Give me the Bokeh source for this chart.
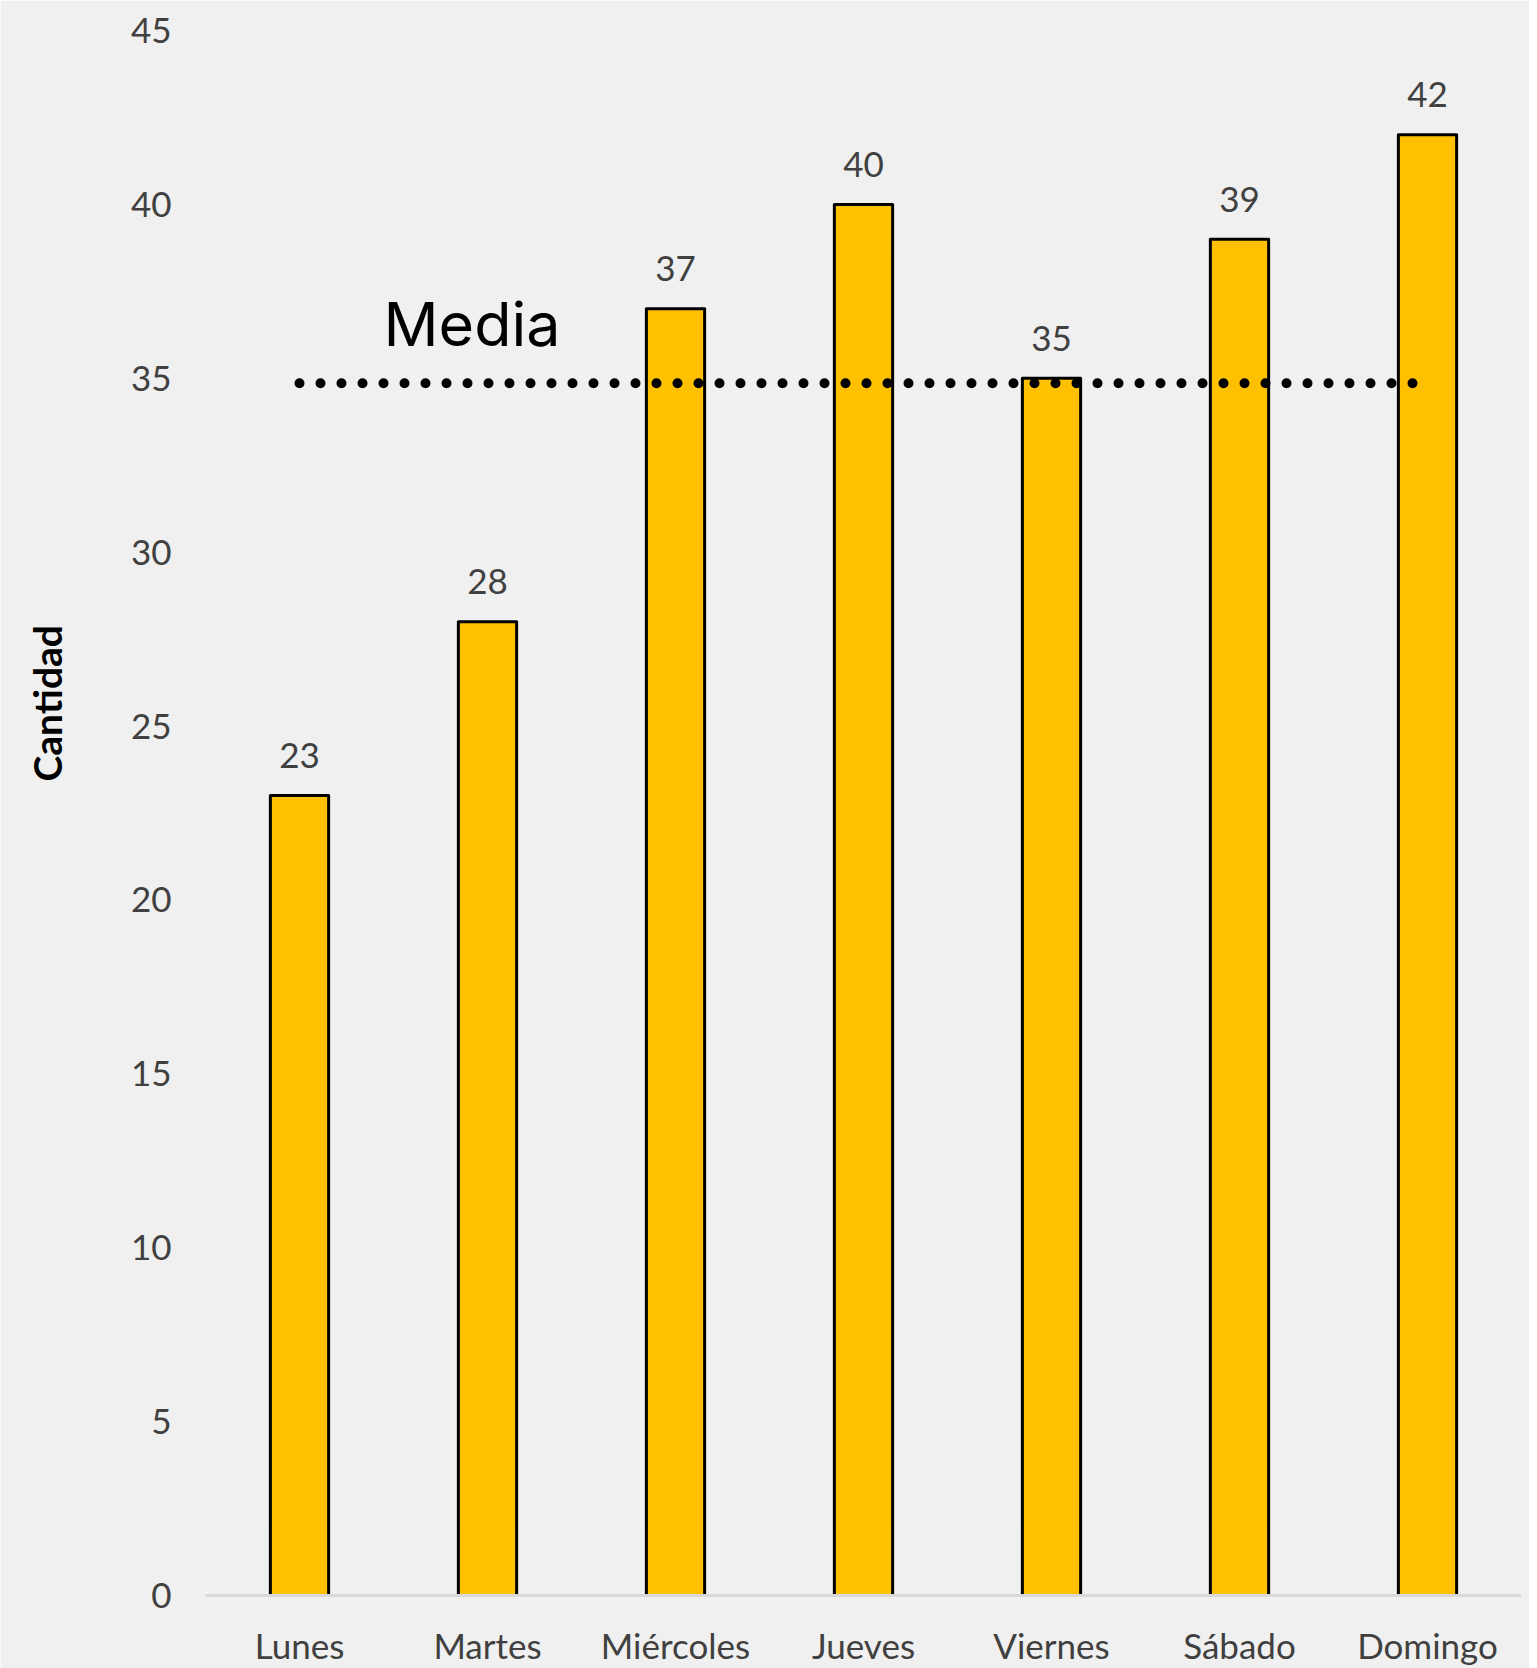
from bokeh.plotting import figure
from bokeh.models import ColumnDataSource, FactorRange, Range1d, FixedTicker, LabelSet, Label, Title
from bokeh.core.properties import value
from bokeh.embed import file_html
from bokeh.resources import INLINE

days = ["Lunes", "Martes", "Miércoles", "Jueves", "Viernes", "Sábado", "Domingo"]
counts = [23, 28, 37, 40, 35, 39, 42]
y_ticks = [0, 5, 10, 15, 20, 25, 30, 35, 40, 45]
mean_value = sum(counts) / len(counts)

BG = "#F0F0F0"
TXT = "#404040"

src = ColumnDataSource(dict(day=days, count=counts, label=[str(c) for c in counts]))

p = figure(
    x_range=FactorRange(factors=days),
    y_range=Range1d(0, 45),
    width=1529, height=1668,
    min_border_left=205, min_border_top=30, min_border_bottom=70, min_border_right=8,
    output_backend="svg", toolbar_location=None,
    background_fill_color=BG, border_fill_color=BG,
    outline_line_color=None,
)

p.vbar(x="day", top="count", width=0.31, source=src,
       fill_color="#FFC000", line_color="black", line_width=3, line_join="round")

p.line(x=[days[0], days[-1]], y=[mean_value, mean_value],
       line_color="black", line_width=10, line_dash="0 21", line_cap="round")

labels = LabelSet(x="day", y="count", text="label", source=src,
                  text_align="center", text_baseline="middle", y_offset=40,
                  text_font=value("Lato"), text_font_size=value("35px"), text_color=TXT)
p.add_layout(labels)

# synthetic coordinate 0.5 = centre of the first category
p.add_layout(Label(x=0.5, y=mean_value, x_offset=84, y_offset=59, text="Media",
                   text_font="Inter", text_font_size="61px", text_color="black",
                   text_baseline="alphabetic", text_align="left"))

# invisible spacer panel between the tick labels and the axis title
p.add_layout(Title(text=" ", standoff=55, text_font_size="1px", text_color=BG), "left")
p.add_layout(Title(text="Cantidad", align="left", offset=814, standoff=0,
                   text_font="Lato", text_font_style="bold", text_font_size="39px",
                   text_color="black"), "left")

p.xgrid.grid_line_color = None
p.ygrid.grid_line_color = None

p.yaxis.ticker = FixedTicker(ticks=y_ticks)
p.yaxis.axis_line_color = None
p.yaxis.major_tick_line_color = None
p.yaxis.minor_tick_line_color = None
p.yaxis.major_label_standoff = 28
p.yaxis.major_label_text_font = "Lato"
p.yaxis.major_label_text_font_size = "35px"
p.yaxis.major_label_text_color = TXT

p.xaxis.axis_line_color = "#D9D9D9"
p.xaxis.axis_line_width = 3
p.xaxis.major_tick_line_color = None
p.xaxis.minor_tick_line_color = None
p.xaxis.major_label_standoff = 22
p.xaxis.major_label_text_font = "Lato"
p.xaxis.major_label_text_font_size = "35px"
p.xaxis.major_label_text_color = TXT

open("out.html", "w").write(file_html(p, INLINE))
